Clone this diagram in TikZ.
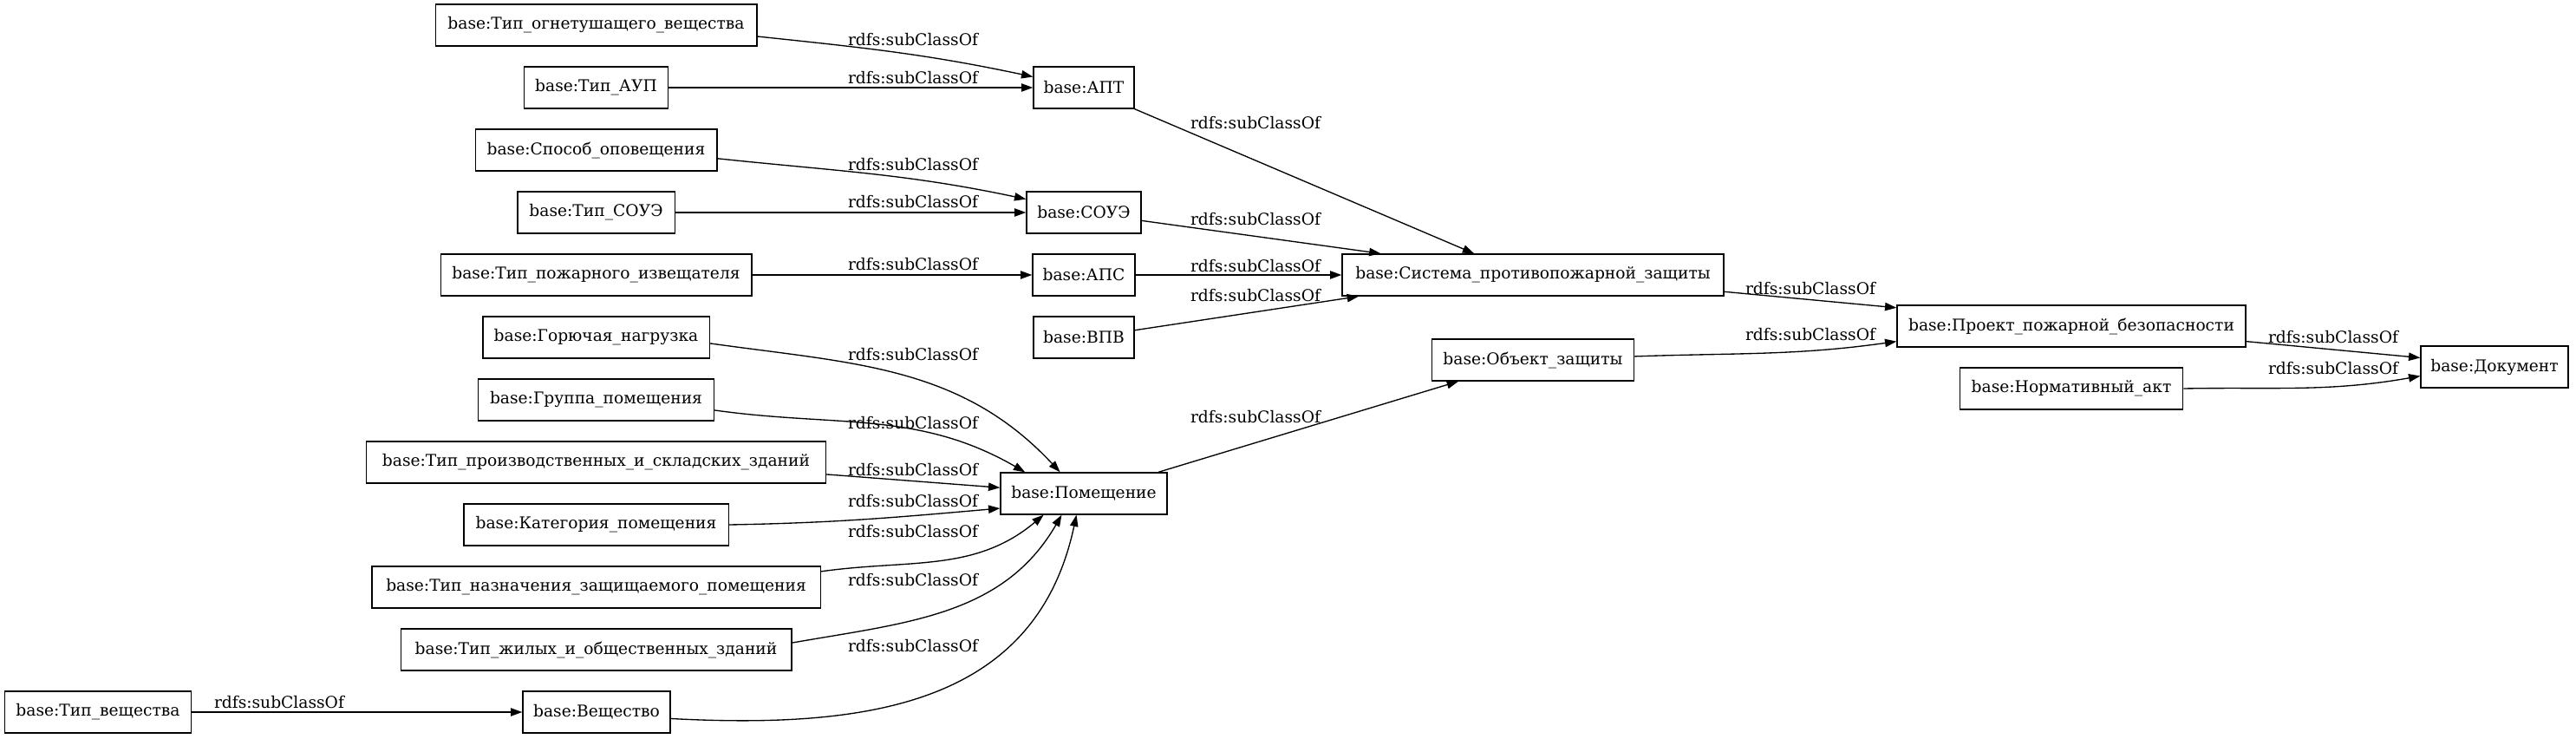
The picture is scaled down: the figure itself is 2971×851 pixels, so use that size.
\documentclass[tikz,border=0pt]{standalone}
\usepackage{fontspec}
\setmainfont{DejaVu Serif}
\usepackage{tikz}
\usetikzlibrary{positioning}
\usetikzlibrary{arrows.meta}

\begin{document}
\begin{tikzpicture}[x=0.75pt, y=0.75pt,
		cls/.style={draw, line width=1pt, rectangle, minimum height=36pt, inner xsep=4pt, font=\fontsize{14pt}{17pt}\selectfont},
		rel/.style={font=\fontsize{14pt}{17pt}\selectfont, inner sep=0pt},
		sub/.style={line width=1pt, -{Triangle[length=10pt, width=7pt]}}]
		\useasboundingbox (0,0) rectangle (2971,851);

		% Left column of classes
		\node[cls, minimum width=278pt] (ogn) at (687.5,822) {base:Тип\_огнетушащего\_вещества};
		\node[cls, minimum width=124.5pt] (aup) at (687.5,750) {base:Тип\_АУП};
		\node[cls, minimum width=209pt] (sposob) at (687.5,678) {base:Способ\_оповещения};
		\node[cls, minimum width=136pt] (tipsoue) at (687.5,606) {base:Тип\_СОУЭ};
		\node[cls, minimum width=269pt] (pozh) at (687.5,534) {base:Тип\_пожарного\_извещателя};
		\node[cls, minimum width=196pt] (goryuch) at (687.5,462) {base:Горючая\_нагрузка};
		\node[cls, minimum width=204pt] (gruppa) at (687.5,390) {base:Группа\_помещения};
		\node[cls, minimum width=397.5pt] (proizv) at (687.5,318) {base:Тип\_производственных\_и\_складских\_зданий};
		\node[cls, minimum width=229pt] (kateg) at (687.5,246) {base:Категория\_помещения};
		\node[cls, minimum width=388pt] (naznach) at (687.5,174) {base:Тип\_назначения\_защищаемого\_помещения};
		\node[cls, minimum width=338pt] (zhilyh) at (687.5,102) {base:Тип\_жилых\_и\_общественных\_зданий};
		\node[cls, minimum width=161.5pt] (tipvesh) at (113,30) {base:Тип\_вещества};
		\node[cls, minimum width=127.5pt] (vesh) at (688,30) {base:Вещество};

		% Middle column
		\node[cls, minimum width=87pt] (apt) at (1250,750) {base:АПТ};
		\node[cls, minimum width=99pt] (soue) at (1250,606) {base:СОУЭ};
		\node[cls, minimum width=88.5pt] (aps) at (1250,534) {base:АПС};
		\node[cls, minimum width=87pt] (vpv) at (1250,462) {base:ВПВ};
		\node[cls, minimum width=144pt] (pomeshch) at (1250,282) {base:Помещение};

		% Right part
		\node[cls, minimum width=330pt] (sistema) at (1768,534) {base:Система\_противопожарной\_защиты};
		\node[cls, minimum width=175pt] (obekt) at (1768,436) {base:Объект\_защиты};
		\node[cls, minimum width=301.5pt] (proekt) at (2389,475) {base:Проект\_пожарной\_безопасности};
		\node[cls, minimum width=193pt] (normativ) at (2389,403) {base:Нормативный\_акт};
		\node[cls, minimum width=127.5pt] (dokument) at (2877,428) {base:Документ};

		% Edges into the middle column
		\draw[sub] (ogn.-4.6) to[out=-6, in=168] (apt.168);
		\draw[sub] (aup) -- (apt);
		\draw[sub] (sposob.-4.5) to[out=-6, in=168] (soue.167);
		\draw[sub] (tipsoue) -- (soue);
		\draw[sub] (pozh) -- (aps);
		\draw[sub] (goryuch.-3) to[out=-8, in=133] (pomeshch.138);
		\draw[sub] (gruppa.-5.5) to[out=-8, in=150] (pomeshch.160);
		\draw[sub] (proizv.-3.7) -- (pomeshch.176);
		\draw[sub] (kateg.east) to[out=1, in=185] (pomeshch.190);
		\draw[sub] (naznach.4) to[out=8, in=220] (pomeshch.208);
		\draw[sub] (zhilyh.2.3) to[out=10, in=240] (pomeshch.224);
		\draw[sub] (vesh.-5.4) to[out=-3, in=258, looseness=1.1] (pomeshch.251);
		\draw[sub] (tipvesh) -- (vesh);

		% Edges to the right
		\draw[sub] (apt.south east) -- (sistema.160.6);
		\draw[sub] (soue.-8.6) -- (sistema.172.1);
		\draw[sub] (aps.east) -- (sistema.west);
		\draw[sub] (vpv.8.8) -- (sistema.187.9);
		\draw[sub] (pomeshch.16.7) -- (obekt.196.1);
		\draw[sub] (sistema.-5.5) -- (proekt.174.3);
		\draw[sub] (obekt.2) to[out=2, in=188] (proekt.185.9);
		\draw[sub] (proekt.-5.4) -- (dokument.173.3);
		\draw[sub] (normativ.east) to[out=1, in=190] (dokument.187.4);

		% Edge labels
		\node[rel] (l1) at (1053,805) {rdfs:subClassOf};
		\node[rel] (l2) at (1053,761) {rdfs:subClassOf};
		\node[rel] (l3) at (1053,661) {rdfs:subClassOf};
		\node[rel] (l4) at (1053,618) {rdfs:subClassOf};
		\node[rel] (l5) at (1053,546) {rdfs:subClassOf};
		\node[rel] (l6) at (1053,442) {rdfs:subClassOf};
		\node[rel] (l7) at (1053,363) {rdfs:subClassOf};
		\node[rel] (l8) at (1053,309) {rdfs:subClassOf};
		\node[rel] (l9) at (1053,273) {rdfs:subClassOf};
		\node[rel] (l10) at (1053,238) {rdfs:subClassOf};
		\node[rel] (l11) at (1053,182) {rdfs:subClassOf};
		\node[rel] (l12) at (1053,106) {rdfs:subClassOf};
		\node[rel] (l13) at (322,41) {rdfs:subClassOf};
		\node[rel] (l14) at (1448,709) {rdfs:subClassOf};
		\node[rel] (l15) at (1448,598) {rdfs:subClassOf};
		\node[rel] (l16) at (1448,544) {rdfs:subClassOf};
		\node[rel] (l17) at (1448,510) {rdfs:subClassOf};
		\node[rel] (l18) at (1448,370) {rdfs:subClassOf};
		\node[rel] (l19) at (2088,518) {rdfs:subClassOf};
		\node[rel] (l20) at (2088,465) {rdfs:subClassOf};
		\node[rel] (l21) at (2691,462) {rdfs:subClassOf};
		\node[rel] (l22) at (2691,426) {rdfs:subClassOf};
	\end{tikzpicture}
\end{document}
